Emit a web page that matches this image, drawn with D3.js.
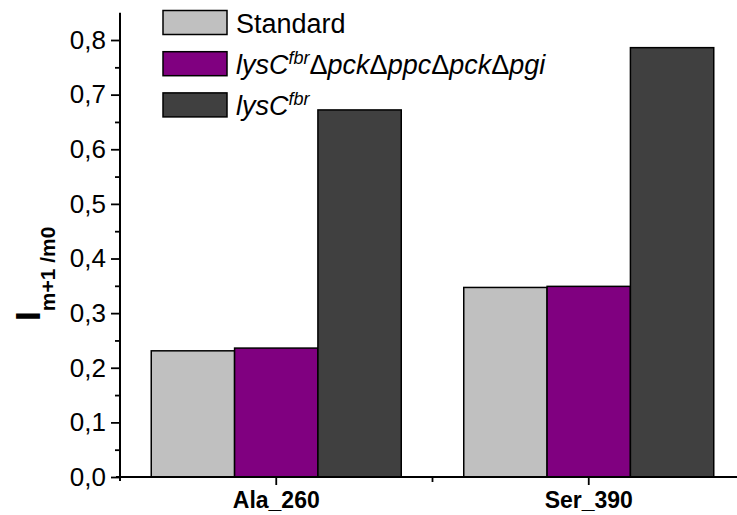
<!DOCTYPE html>
<html>
<head>
<meta charset="utf-8">
<script src="https://cdn.jsdelivr.net/npm/d3@7"></script>
<style>
  html, body { margin: 0; padding: 0; background: #fff; }
  svg { display: block; font-family: Arial, "Liberation Sans", sans-serif; }
</style>
</head>
<body>
<div id="chart"></div>
<script>
// Data
const categories = ["Ala_260", "Ser_390"]
const seriesKeys = ["standard", "delta", "lysc"]
const standard = [0.231, 0.347]
const delta = [0.236, 0.349]
const lysc = [0.672, 0.786]
const yTicks = [0, 0.1, 0.2, 0.3, 0.4, 0.5, 0.6, 0.7, 0.8]
const yMinorTicks = [0.05, 0.15, 0.25, 0.35, 0.45, 0.55, 0.65, 0.75]

const values = { standard, delta, lysc }
const colors = { standard: "#c0c0c0", delta: "#800080", lysc: "#404040" }

// Create SVG
const width = 737, height = 515
const svg = d3.select("#chart").append("svg")
  .attr("width", width)
  .attr("height", height)

// Scales
const x0 = d3.scaleBand()
  .domain(categories)
  .range([120, 745])
  .paddingInner(0.2)
  .paddingOuter(0.1)
const x1 = d3.scaleBand()
  .domain(seriesKeys)
  .range([0, x0.bandwidth()])
const y = d3.scaleLinear()
  .domain([0, 0.85])
  .range([477, 12.7])

// Render bars
svg.append("g")
  .selectAll("g")
  .data(categories)
  .join("g")
  .attr("transform", d => `translate(${x0(d)},0)`)
  .selectAll("rect")
  .data((d, i) => seriesKeys.map(k => ({ key: k, value: values[k][i] })))
  .join("rect")
  .attr("x", d => x1(d.key))
  .attr("y", d => y(d.value))
  .attr("width", x1.bandwidth())
  .attr("height", d => y(0) - y(d.value))
  .attr("fill", d => colors[d.key])
  .attr("stroke", "#000")
  .attr("stroke-width", 1.5)

// Y axis
const fmt = v => d3.format(".1f")(v).replace(".", ",")
svg.append("g")
  .attr("transform", "translate(120,0)")
  .call(d3.axisLeft(y).tickValues(yTicks).tickFormat(fmt).tickSize(9).tickPadding(5))
  .call(g => g.select(".domain").remove())
  .call(g => g.selectAll(".tick line").attr("stroke", "#000").attr("stroke-width", 1.8))
  .selectAll("text")
  .attr("fill", "#000")
  .style("font-size", "26px")
svg.append("g")
  .attr("transform", "translate(120,0)")
  .call(d3.axisLeft(y).tickValues(yMinorTicks).tickFormat("").tickSize(5))
  .call(g => g.select(".domain").remove())
  .call(g => g.selectAll(".tick line").attr("stroke", "#000").attr("stroke-width", 1.8))
svg.append("line")
  .attr("x1", 120).attr("x2", 120)
  .attr("y1", y(0.85)).attr("y2", y(0) + 4)
  .attr("stroke", "#000").attr("stroke-width", 2)

// X axis
svg.append("g")
  .attr("transform", `translate(0,${y(0)})`)
  .call(d3.axisBottom(x0).tickSize(8).tickPadding(6))
  .call(g => g.select(".domain").remove())
  .call(g => g.selectAll(".tick line").attr("stroke", "#000").attr("stroke-width", 1.8))
  .selectAll("text")
  .attr("fill", "#000")
  .attr("dy", "0.72em")
  .style("font-size", "23px")
  .style("font-weight", "bold")
const mid = (x0(categories[0]) + x0(categories[1]) + x0.bandwidth()) / 2
svg.append("line")
  .attr("x1", mid).attr("x2", mid)
  .attr("y1", y(0)).attr("y2", y(0) + 5)
  .attr("stroke", "#000").attr("stroke-width", 1.8)
svg.append("line")
  .attr("x1", 116).attr("x2", width)
  .attr("y1", y(0)).attr("y2", y(0))
  .attr("stroke", "#000").attr("stroke-width", 2)

// Y label
const ylab = svg.append("text")
  .attr("transform", "translate(40,321) rotate(-90)")
  .attr("font-weight", "bold")
  .attr("fill", "#000")
ylab.append("tspan").style("font-size", "35px").text("I")
ylab.append("tspan").style("font-size", "21px").attr("dy", 15).text("m+1 /m0")

// Legend
const legend = svg.append("g").attr("transform", "translate(163,10.5)")
const rows = legend.selectAll("g")
  .data(seriesKeys)
  .join("g")
  .attr("transform", (d, i) => `translate(0,${i * 41.2})`)
rows.append("rect")
  .attr("width", 64)
  .attr("height", 24)
  .attr("fill", d => colors[d])
  .attr("stroke", "#000")
  .attr("stroke-width", 1.5)
const labels = rows.append("text")
  .attr("x", 73)
  .attr("y", 22)
  .attr("fill", "#000")
  .style("font-size", "27px")

// Legend texts: [text, italic, superscript]
const legendParts = {
  standard: [["Standard", false, false]],
  delta: [["lysC", true, false], ["fbr", true, true], ["\u0394", false, false], ["pck", true, false],
    ["\u0394", false, false], ["ppc", true, false], ["\u0394", false, false], ["pck", true, false],
    ["\u0394", false, false], ["pgi", true, false]],
  lysc: [["lysC", true, false], ["fbr", true, true]],
}
labels.each(function (d) {
  const t = d3.select(this)
  let up = false
  for (const [s, it, sup] of legendParts[d]) {
    const ts = t.append("tspan").text(s)
      .style("font-style", it ? "italic" : "normal")
    if (sup && !up) { ts.attr("dy", -10).style("font-size", "18px"); up = true }
    else if (!sup && up) { ts.attr("dy", 10); up = false }
  }
})
</script>
</body>
</html>
